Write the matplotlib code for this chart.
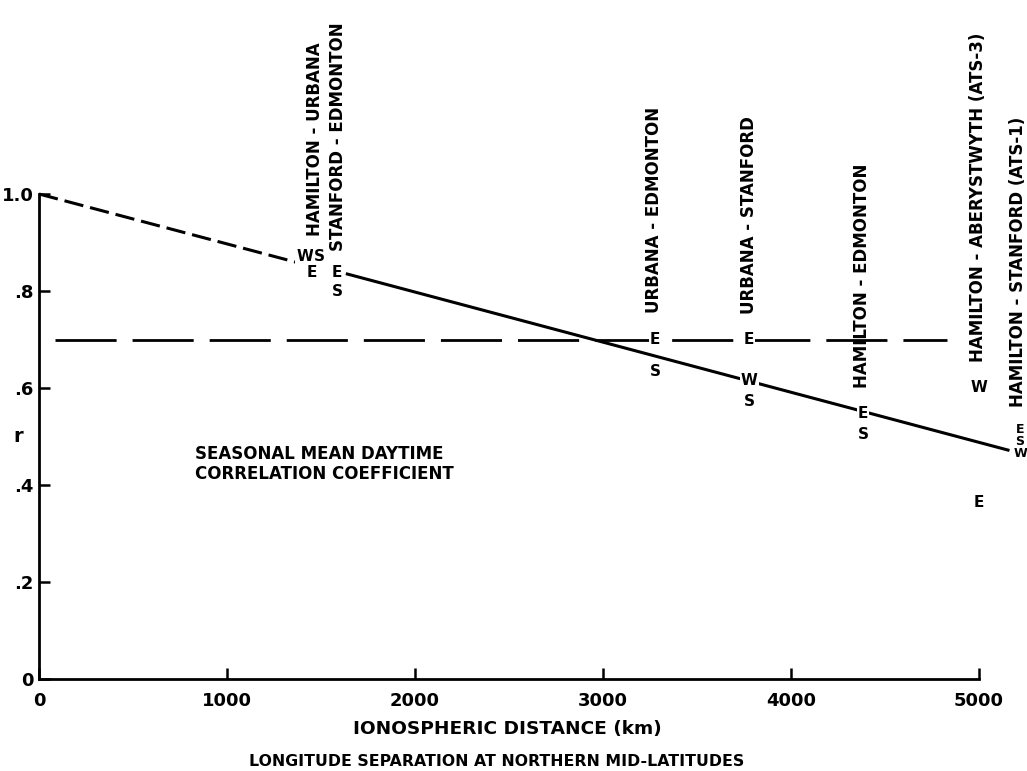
import matplotlib.pyplot as plt

plt.rcParams['font.family'] = 'DejaVu Sans'
plt.rcParams['font.weight'] = 'bold'
plt.rcParams['lines.scale_dashes'] = False

## station pairs (ionospheric distance in km)
pair_names = ['HAMILTON - URBANA', 'STANFORD - EDMONTON', 'URBANA - EDMONTON',
              'URBANA - STANFORD', 'HAMILTON - EDMONTON',
              'HAMILTON - ABERYSTWYTH (ATS-3)', 'HAMILTON - STANFORD (ATS-1)']
pair_km = [1468, 1590, 3271, 3777, 4378, 4995, 5207]
label_base_r = [0.913, 0.883, 0.755, 0.753, 0.60, 0.654, 0.561]

## seasonal correlation points (W winter, S summer, E equinox)
pt_km = [1414, 1492, 1452, 1585, 1585, 3277, 3277, 3777, 3777, 3777, 4383, 4383, 5000, 5000]
pt_r = [0.872, 0.872, 0.839, 0.839, 0.80, 0.699, 0.633, 0.70, 0.616, 0.573, 0.548, 0.505, 0.60, 0.363]
pt_season = ['W', 'S', 'E', 'E', 'S', 'E', 'S', 'E', 'W', 'S', 'E', 'S', 'W', 'E']

## ATS-1 points, squeezed at the right edge
ats1_km = [5218, 5218, 5218]
ats1_r = [0.515, 0.489, 0.464]
ats1_season = ['E', 'S', 'W']

## fitted decay line, dashed part then solid part
fit_dash_km = [0, 1380]
fit_dash_r = [1.0, 0.858]
fit_solid_km = [1640, 5154]
fit_solid_r = [0.835, 0.472]

## r = 0.7 reference level
ref_km = [85, 4830]
ref_r = [0.70, 0.70]

xticks = [0, 1000, 2000, 3000, 4000, 5000]
yticks = [0, 0.2, 0.4, 0.6, 0.8, 1.0]
ytick_labels = ['0', '.2', '.4', '.6', '.8', '1.0']

fig = plt.figure(figsize=(10.27, 7.71), dpi=100)
ax = fig.add_axes([39 / 1027, 92 / 771, 988 / 1027, 679 / 771])
ax.set_xlim(0, 5255)
ax.set_ylim(0, 1.40)

for s in ['top', 'right']:
    ax.spines[s].set_visible(False)
ax.spines['left'].set_bounds(0, 1.0)
ax.spines['bottom'].set_bounds(0, 5000)
ax.spines['left'].set_linewidth(2)
ax.spines['bottom'].set_linewidth(2)

ax.set_xticks(xticks)
ax.set_xticklabels([str(t) for t in xticks])
ax.set_yticks(yticks)
ax.set_yticklabels(ytick_labels)
ax.tick_params(direction='in', length=8, width=1.8, labelsize=13)
ax.tick_params(axis='x', pad=9)
ax.tick_params(axis='y', pad=4)

ax.plot(fit_dash_km, fit_dash_r, color='black', lw=2.2, dashes=(14, 5))
ax.plot(fit_solid_km, fit_solid_r, color='black', lw=2.2)
ax.plot(ref_km, ref_r, color='black', lw=2.0, dashes=(44, 11.5))

box = dict(facecolor='white', edgecolor='none', pad=0.8)
for k, r, s in zip(pt_km, pt_r, pt_season):
    ax.text(k, r, s, ha='center', va='center', fontsize=11, bbox=box, zorder=5)
for k, r, s in zip(ats1_km, ats1_r, ats1_season):
    ax.text(k, r, s, ha='center', va='center', fontsize=9, bbox=box, zorder=5)

for name, k, r in zip(pair_names, pair_km, label_base_r):
    ax.text(k, r, name, rotation=90, ha='center', va='bottom', fontsize=12)

ax.text(830, 0.443, 'SEASONAL MEAN DAYTIME\nCORRELATION COEFFICIENT',
        ha='left', va='center', fontsize=12, linespacing=1.15)

fig.text(18 / 1027, 1 - 436 / 771, 'r', fontsize=14, ha='center', va='center')
fig.text(507 / 1027, 1 - 729 / 771, 'IONOSPHERIC DISTANCE (km)',
         fontsize=13.3, ha='center', va='center')
fig.text(497 / 1027, 1 - 762 / 771, 'LONGITUDE SEPARATION AT NORTHERN MID-LATITUDES',
         fontsize=11.3, ha='center', va='center')

fig.savefig('out.png', dpi=100)
